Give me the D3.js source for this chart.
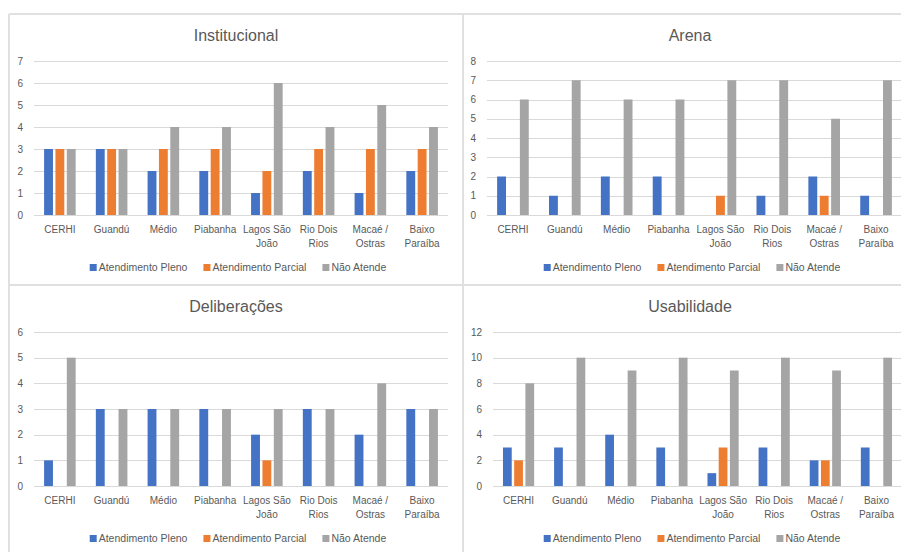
<!DOCTYPE html>
<html>
<head>
<meta charset="utf-8">
<script src="https://cdn.jsdelivr.net/npm/d3@7"></script>
<style>
	body { margin: 0; background: #fff; }
	svg { display: block; font-family: "Liberation Sans", Arial, sans-serif; }
</style>
</head>
<body>
<svg width="901" height="552"></svg>
<script>
var categories = ["CERHI", "Guandú", "Médio", "Piabanha", "Lagos São|João", "Rio Dois|Rios", "Macaé /|Ostras", "Baixo|Paraíba"];
var seriesNames = ["Atendimento Pleno", "Atendimento Parcial", "Não Atende"];
var seriesColors = ["#4472C4", "#ED7D31", "#A5A5A5"];

var titles = ["Institucional", "Arena", "Deliberações", "Usabilidade"];

var institucionalPleno = [3, 3, 2, 2, 1, 2, 1, 2];
var institucionalParcial = [3, 3, 3, 3, 2, 3, 3, 3];
var institucionalNao = [3, 3, 4, 4, 6, 4, 5, 4];

var arenaPleno = [2, 1, 2, 2, 0, 1, 2, 1];
var arenaParcial = [0, 0, 0, 0, 1, 0, 1, 0];
var arenaNao = [6, 7, 6, 6, 7, 7, 5, 7];

var deliberacoesPleno = [1, 3, 3, 3, 2, 3, 2, 3];
var deliberacoesParcial = [0, 0, 0, 0, 1, 0, 0, 0];
var deliberacoesNao = [5, 3, 3, 3, 3, 3, 4, 3];

var usabilidadePleno = [3, 3, 4, 3, 1, 3, 2, 3];
var usabilidadeParcial = [2, 0, 0, 0, 3, 0, 2, 0];
var usabilidadeNao = [8, 10, 9, 10, 9, 10, 9, 10];

var yMax = [7, 8, 6, 12];
var yTicks = [
	d3.range(0, 8, 1),
	d3.range(0, 9, 1),
	d3.range(0, 7, 1),
	d3.range(0, 13, 2)
];

var charts = [
	[institucionalPleno, institucionalParcial, institucionalNao],
	[arenaPleno, arenaParcial, arenaNao],
	[deliberacoesPleno, deliberacoesParcial, deliberacoesNao],
	[usabilidadePleno, usabilidadeParcial, usabilidadeNao]
];

var svg = d3.select("svg");
var textColor = "#595959";
var gridColor = "#d9d9d9";

// panel frames (excel chart grid)
var panels = [
	{x: 9, y: 14, left: 25},
	{x: 463, y: 14, left: 24},
	{x: 9, y: 285, left: 25},
	{x: 463, y: 285, left: 30}
];
var panelW = 454;

for (var p = 0; p < 4; p++) {
	drawChart(p);
}

// borders
var borders = svg.append("g").attr("stroke", "#e0e0e0").attr("stroke-width", 2);
borders.append("line").attr("x1", 9).attr("y1", 14).attr("x2", 901).attr("y2", 14);
borders.append("line").attr("x1", 9).attr("y1", 14).attr("x2", 9).attr("y2", 552);
borders.append("line").attr("x1", 463).attr("y1", 14).attr("x2", 463).attr("y2", 552);
borders.append("line").attr("x1", 9).attr("y1", 285).attr("x2", 901).attr("y2", 285);

function drawChart(p) {
	var pn = panels[p];
	var g = svg.append("g");
	var plotLeft = pn.x + pn.left;
	var plotRight = pn.x + 439;
	var plotTop = pn.y + 47;
	var plotBottom = pn.y + 201;

	var x = d3.scaleBand().domain(categories).range([plotLeft, plotRight]);
	var inner = d3.scaleBand().domain(seriesNames)
		.range([-0.305 * x.bandwidth(), 0.305 * x.bandwidth()])
		.paddingInner(0.22);
	var y = d3.scaleLinear().domain([0, yMax[p]]).range([plotBottom, plotTop]);

	// title
	g.append("text")
		.attr("x", pn.x + panelW / 2)
		.attr("y", pn.y + 27)
		.attr("text-anchor", "middle")
		.attr("font-size", "16px")
		.attr("fill", textColor)
		.text(titles[p]);

	// gridlines
	g.append("g").selectAll("line")
		.data(yTicks[p])
		.enter().append("line")
		.attr("x1", plotLeft)
		.attr("x2", plotRight)
		.attr("y1", function(d) { return Math.round(y(d)) + 0.5; })
		.attr("y2", function(d) { return Math.round(y(d)) + 0.5; })
		.attr("stroke", gridColor)
		.attr("stroke-width", 1);

	// y labels
	g.append("g").selectAll("text")
		.data(yTicks[p])
		.enter().append("text")
		.attr("x", plotLeft - 11)
		.attr("y", function(d) { return y(d) + 3.5; })
		.attr("text-anchor", "end")
		.attr("font-size", "10px")
		.attr("fill", textColor)
		.text(function(d) { return d; });

	// bars
	var series = charts[p];
	for (var s = 0; s < series.length; s++) {
		g.append("g").selectAll("rect")
			.data(series[s].map(function(v, i) { return {cat: categories[i], value: v}; }))
			.enter().append("rect")
			.filter(function(d) { return d.value > 0; })
			.attr("x", function(d) { return x(d.cat) + x.bandwidth() / 2 + inner(seriesNames[s]); })
			.attr("width", inner.bandwidth())
			.attr("y", function(d) { return y(d.value); })
			.attr("height", function(d) { return y(0) - y(d.value); })
			.attr("fill", seriesColors[s]);
	}

	// category labels
	var cat = g.append("g").selectAll("text")
		.data(categories)
		.enter().append("text")
		.attr("x", function(d) { return x(d) + x.bandwidth() / 2; })
		.attr("y", pn.y + 219)
		.attr("text-anchor", "middle")
		.attr("font-size", "10px")
		.attr("fill", textColor);
	cat.each(function(d) {
		var lines = d.split("|");
		var t = d3.select(this);
		for (var k = 0; k < lines.length; k++) {
			t.append("tspan")
				.attr("x", x(d) + x.bandwidth() / 2)
				.attr("dy", k == 0 ? 0 : 14)
				.text(lines[k]);
		}
	});

	// legend
	var legend = g.append("g");
	var lx = 0;
	for (var s = 0; s < seriesNames.length; s++) {
		var item = legend.append("g").attr("transform", "translate(" + lx + ",0)");
		item.append("rect")
			.attr("x", 0).attr("y", -7)
			.attr("width", 7).attr("height", 7)
			.attr("fill", seriesColors[s]);
		var txt = item.append("text")
			.attr("x", 9).attr("y", 0)
			.attr("font-size", "10.5px")
			.attr("fill", textColor)
			.text(seriesNames[s]);
		lx += 9 + txt.node().getComputedTextLength() + 16;
	}
	var legendW = lx - 16;
	legend.attr("transform", "translate(" + (pn.x + panelW / 2 - legendW / 2 + 2) + "," + (pn.y + 257) + ")");
}
</script>
</body>
</html>
